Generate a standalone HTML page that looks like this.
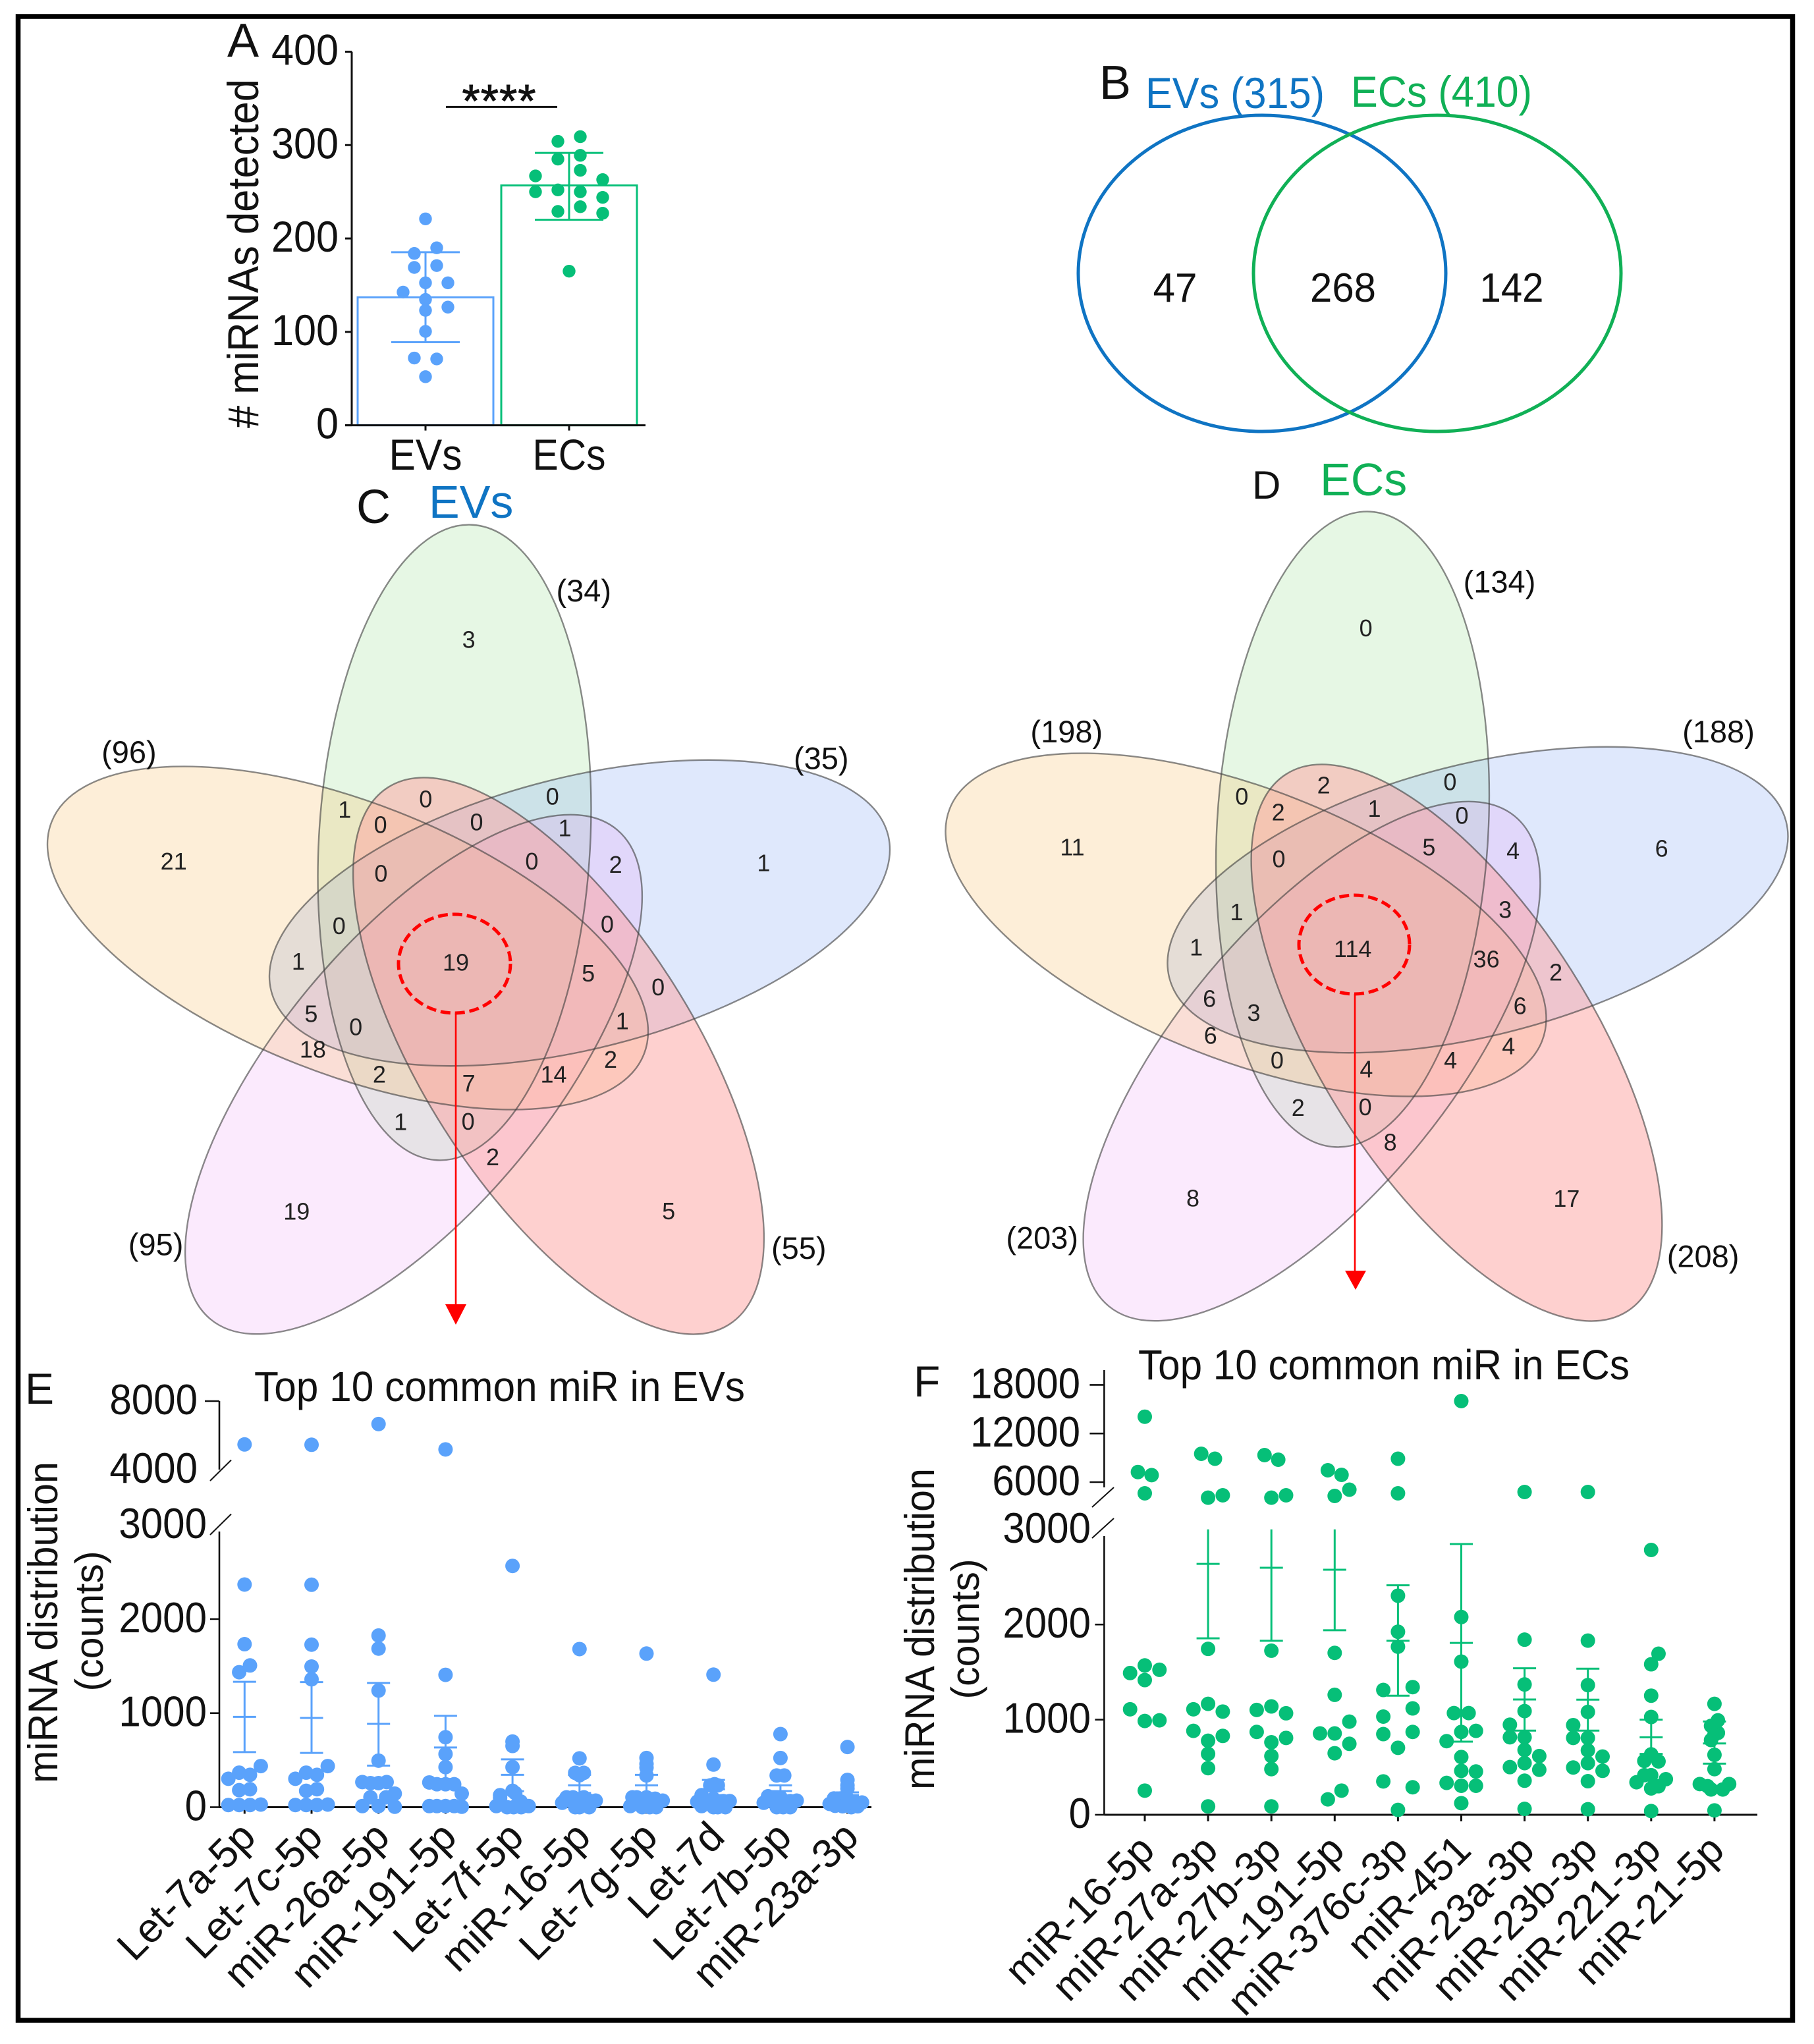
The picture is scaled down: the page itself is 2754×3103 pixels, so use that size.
<!DOCTYPE html>
<html lang="en">
<head>
<meta charset="utf-8">
<title>miRNA detection in EVs and ECs</title>
<style>
  html, body { margin: 0; padding: 0; background: #fff; }
  svg { display: block; font-family: "Liberation Sans", sans-serif; }
  text { fill: #111; }
  .vc { font-size: 36px; text-anchor: middle; fill: #222; }
  .vp { font-size: 47px; text-anchor: middle; fill: #111; }
  .panel { font-size: 72px; }
  .petal-line { fill: none; stroke: rgba(60,60,60,.6); stroke-width: 2.4; }
</style>
</head>
<body>
<svg id="figure" xmlns="http://www.w3.org/2000/svg" width="2754" height="3103" viewBox="0 0 2754 3103">
  <rect x="0" y="0" width="2754" height="3103" fill="#fff"/>
  <rect x="27.5" y="25" width="2694" height="3042" fill="none" stroke="#000" stroke-width="7.5"/>

  <!-- Panel A static text -->
  <text class="panel" x="345" y="86">A</text>
  <text transform="translate(392,385) rotate(-90)" text-anchor="middle" font-size="66" textLength="530" lengthAdjust="spacingAndGlyphs"># miRNAs detected</text>
  <text x="758" y="177" text-anchor="middle" font-size="70" letter-spacing="1" style="stroke:#111;stroke-width:1">****</text>
  <line x1="677" y1="162.4" x2="846" y2="162.4" stroke="#111" stroke-width="3"/>
  <g id="panelA"></g>

  <!-- Panel B -->
  <g>
    <text class="panel" x="1669" y="150">B</text>
    <text x="1739" y="164" font-size="66" textLength="272" lengthAdjust="spacingAndGlyphs" style="fill:#0f74c3">EVs (315)</text>
    <text x="2051" y="162" font-size="66" textLength="275" lengthAdjust="spacingAndGlyphs" style="fill:#10b056">ECs (410)</text>
    <ellipse cx="1916" cy="415" rx="279" ry="240" fill="none" stroke="#0f74c3" stroke-width="5"/>
    <ellipse cx="2182" cy="415" rx="279" ry="240" fill="none" stroke="#10b056" stroke-width="5"/>
    <text x="1784" y="458" text-anchor="middle" font-size="62" textLength="67" lengthAdjust="spacingAndGlyphs">47</text>
    <text x="2039" y="458" text-anchor="middle" font-size="62" textLength="100" lengthAdjust="spacingAndGlyphs">268</text>
    <text x="2295" y="458" text-anchor="middle" font-size="62" textLength="97" lengthAdjust="spacingAndGlyphs">142</text>
  </g>

  <!-- Panel C -->
  <g>
    <text class="panel" x="541" y="794">C</text>
    <text x="651" y="786" font-size="70" style="fill:#0f74c3">EVs</text>
    <ellipse cx="690" cy="1279" rx="206" ry="483" transform="rotate(3.2 690 1279)" fill="rgba(130,215,120,.2)"/>
    <ellipse cx="880" cy="1386" rx="206" ry="483" transform="rotate(75.8 880 1386)" fill="rgba(127,163,243,.25)"/>
    <ellipse cx="628" cy="1631" rx="206" ry="483" transform="rotate(39.7 628 1631)" fill="rgba(235,150,245,.2)"/>
    <ellipse cx="528" cy="1424" rx="206" ry="483" transform="rotate(-68.6 528 1424)" fill="rgba(247,187,99,.25)"/>
    <ellipse cx="848" cy="1603" rx="206" ry="483" transform="rotate(-32.4 848 1603)" fill="rgba(253,161,159,.5)"/>
    <ellipse class="petal-line" cx="690" cy="1279" rx="206" ry="483" transform="rotate(3.2 690 1279)"/>
    <ellipse class="petal-line" cx="880" cy="1386" rx="206" ry="483" transform="rotate(75.8 880 1386)"/>
    <ellipse class="petal-line" cx="628" cy="1631" rx="206" ry="483" transform="rotate(39.7 628 1631)"/>
    <ellipse class="petal-line" cx="528" cy="1424" rx="206" ry="483" transform="rotate(-68.6 528 1424)"/>
    <ellipse class="petal-line" cx="848" cy="1603" rx="206" ry="483" transform="rotate(-32.4 848 1603)"/>
    <ellipse cx="690" cy="1463" rx="85" ry="75" fill="none" stroke="#f00" stroke-width="5" stroke-dasharray="15 7"/>
    <line x1="692" y1="1538" x2="692" y2="1982" stroke="#f00" stroke-width="2.6"/>
    <polygon points="676,1980 708,1980 692,2011" fill="#f00"/>
    <g>
      <text class="vc" x="711.6" y="983.6">3</text>
      <text class="vc" x="263.7" y="1320.2">21</text>
      <text class="vc" x="1159.4" y="1322.7">1</text>
      <text class="vc" x="450.3" y="1851.7">19</text>
      <text class="vc" x="1015.2" y="1850.9">5</text>
      <text class="vc" x="692" y="1473.6">19</text>
      <text class="vc" x="523.3" y="1241.4">1</text>
      <text class="vc" x="577.6" y="1264.7">0</text>
      <text class="vc" x="646.3" y="1225.7">0</text>
      <text class="vc" x="723.5" y="1260.5">0</text>
      <text class="vc" x="838.8" y="1221.5">0</text>
      <text class="vc" x="857.5" y="1269.6">1</text>
      <text class="vc" x="807.4" y="1320.2">0</text>
      <text class="vc" x="934.6" y="1325.2">2</text>
      <text class="vc" x="578.4" y="1338.5">0</text>
      <text class="vc" x="514.8" y="1418">0</text>
      <text class="vc" x="921.9" y="1415.6">0</text>
      <text class="vc" x="452.9" y="1472">1</text>
      <text class="vc" x="893.1" y="1490.2">5</text>
      <text class="vc" x="999.1" y="1510.9">0</text>
      <text class="vc" x="472.4" y="1551.6">5</text>
      <text class="vc" x="540.2" y="1571.5">0</text>
      <text class="vc" x="944.8" y="1562.3">1</text>
      <text class="vc" x="474.9" y="1605.5">18</text>
      <text class="vc" x="927" y="1621.2">2</text>
      <text class="vc" x="575.9" y="1643.6">2</text>
      <text class="vc" x="711.6" y="1656.9">7</text>
      <text class="vc" x="840.5" y="1643.6">14</text>
      <text class="vc" x="608.1" y="1715.7">1</text>
      <text class="vc" x="710.7" y="1714.9">0</text>
      <text class="vc" x="748" y="1768.8">2</text>
    </g>
    <text class="vp" x="886.3" y="912.8">(34)</text>
    <text class="vp" x="195.9" y="1158.2">(96)</text>
    <text class="vp" x="1246.8" y="1167.3">(35)</text>
    <text class="vp" x="236.6" y="1905.3">(95)</text>
    <text class="vp" x="1212.8" y="1911.1">(55)</text>
  </g>

  <!-- Panel D -->
  <g>
    <text x="1901" y="757" font-size="60">D</text>
    <text x="2004" y="752" font-size="70" style="fill:#10b056">ECs</text>
    <g transform="translate(1363.5,-20)">
      <ellipse cx="690" cy="1279" rx="206" ry="483" transform="rotate(3.2 690 1279)" fill="rgba(130,215,120,.2)"/>
      <ellipse cx="880" cy="1386" rx="206" ry="483" transform="rotate(75.8 880 1386)" fill="rgba(127,163,243,.25)"/>
      <ellipse cx="628" cy="1631" rx="206" ry="483" transform="rotate(39.7 628 1631)" fill="rgba(235,150,245,.2)"/>
      <ellipse cx="528" cy="1424" rx="206" ry="483" transform="rotate(-68.6 528 1424)" fill="rgba(247,187,99,.25)"/>
      <ellipse cx="848" cy="1603" rx="206" ry="483" transform="rotate(-32.4 848 1603)" fill="rgba(253,161,159,.5)"/>
      <ellipse class="petal-line" cx="690" cy="1279" rx="206" ry="483" transform="rotate(3.2 690 1279)"/>
      <ellipse class="petal-line" cx="880" cy="1386" rx="206" ry="483" transform="rotate(75.8 880 1386)"/>
      <ellipse class="petal-line" cx="628" cy="1631" rx="206" ry="483" transform="rotate(39.7 628 1631)"/>
      <ellipse class="petal-line" cx="528" cy="1424" rx="206" ry="483" transform="rotate(-68.6 528 1424)"/>
      <ellipse class="petal-line" cx="848" cy="1603" rx="206" ry="483" transform="rotate(-32.4 848 1603)"/>
    </g>
    <ellipse cx="2056" cy="1434" rx="84" ry="75" fill="none" stroke="#f00" stroke-width="5" stroke-dasharray="15 7"/>
    <line x1="2057" y1="1509" x2="2057" y2="1932" stroke="#f00" stroke-width="2.6"/>
    <polygon points="2042,1929 2074,1929 2058,1958" fill="#f00"/>
    <g>
      <text class="vc" x="2073.6" y="966.2">0</text>
      <text class="vc" x="1628" y="1298.7">11</text>
      <text class="vc" x="2522.6" y="1300.4">6</text>
      <text class="vc" x="1811" y="1831.4">8</text>
      <text class="vc" x="2378.4" y="1832.2">17</text>
      <text class="vc" x="2053.7" y="1453.1">114</text>
      <text class="vc" x="1885.3" y="1221.5">0</text>
      <text class="vc" x="1940.6" y="1245.3">2</text>
      <text class="vc" x="2009.7" y="1204.6">2</text>
      <text class="vc" x="2086.5" y="1240.2">1</text>
      <text class="vc" x="2201.4" y="1199.5">0</text>
      <text class="vc" x="2219.5" y="1250.4">0</text>
      <text class="vc" x="2169.4" y="1298.7">5</text>
      <text class="vc" x="2297.2" y="1303.8">4</text>
      <text class="vc" x="1941.5" y="1316.5">0</text>
      <text class="vc" x="1877.5" y="1397.1">1</text>
      <text class="vc" x="2285.1" y="1393.7">3</text>
      <text class="vc" x="1816.2" y="1450.5">1</text>
      <text class="vc" x="2256.6" y="1468.4">36</text>
      <text class="vc" x="2362" y="1488.7">2</text>
      <text class="vc" x="1836.1" y="1528.6">6</text>
      <text class="vc" x="1903.5" y="1549.8">3</text>
      <text class="vc" x="2307.6" y="1539.6">6</text>
      <text class="vc" x="1837.8" y="1584.6">6</text>
      <text class="vc" x="2290.3" y="1600.7">4</text>
      <text class="vc" x="1938.9" y="1621.9">0</text>
      <text class="vc" x="2074.4" y="1635.5">4</text>
      <text class="vc" x="2202.2" y="1621.9">4</text>
      <text class="vc" x="1970.8" y="1694">2</text>
      <text class="vc" x="2072.7" y="1693.1">0</text>
      <text class="vc" x="2110.7" y="1746.6">8</text>
    </g>
    <text class="vp" x="2276.5" y="899.7">(134)</text>
    <text class="vp" x="1619.3" y="1127">(198)</text>
    <text class="vp" x="2609" y="1127">(188)</text>
    <text class="vp" x="1582.2" y="1895.5">(203)</text>
    <text class="vp" x="2585.6" y="1923.5">(208)</text>
  </g>

  <!-- Panel E static text -->
  <text x="38" y="2131" font-size="66">E</text>
  <text x="386" y="2127" font-size="64" textLength="745" lengthAdjust="spacingAndGlyphs">Top 10 common miR in EVs</text>
  <text transform="translate(87,2463) rotate(-90)" text-anchor="middle" font-size="63" textLength="488" lengthAdjust="spacingAndGlyphs">miRNA distribution</text>
  <text transform="translate(156,2461) rotate(-90)" text-anchor="middle" font-size="60" textLength="213" lengthAdjust="spacingAndGlyphs">(counts)</text>
  <g id="panelE"></g>

  <!-- Panel F static text -->
  <text x="1387" y="2120" font-size="66">F</text>
  <text x="1728" y="2094" font-size="64" textLength="746" lengthAdjust="spacingAndGlyphs">Top 10 common miR in ECs</text>
  <text transform="translate(1418,2473) rotate(-90)" text-anchor="middle" font-size="63" textLength="488" lengthAdjust="spacingAndGlyphs">miRNA distribution</text>
  <text transform="translate(1486,2473) rotate(-90)" text-anchor="middle" font-size="60" textLength="213" lengthAdjust="spacingAndGlyphs">(counts)</text>
  <g id="panelF"></g>
</svg>

<script>
/* ---------- Panel A data ---------- */
const detectedCategories = ['EVs', 'ECs'];
const detectedTicks = [0, 100, 200, 300, 400];
const detectedMeans = [137, 256.8];
const detectedUpper = [185.3, 291.6];
const detectedLower = [88.9, 220];
const detectedEVs = [221, 190, 184, 169, 171, 152.5, 152.5, 142.6, 134.7, 123, 126.5, 100.5, 72, 71, 52];
const detectedEVsSwarm = [0, 1, -1, -1, 1, 0, 2, -2, 0, 0, 2, 0, -1, 1, 0];
const detectedECs = [309, 304, 289, 285, 273, 267, 263, 252, 250, 250, 244, 234, 229, 227, 165];
const detectedECsSwarm = [1, -1, 1, -1, 1, -3, 3, -1, -3, 1, 3, 1, -1, 3, 0];

/* ---------- Panel E data ---------- */
const evCategories = ['Let-7a-5p', 'Let-7c-5p', 'miR-26a-5p', 'miR-191-5p', 'Let-7f-5p', 'miR-16-5p', 'Let-7g-5p', 'Let-7d', 'Let-7b-5p', 'miR-23a-3p'];
const evLowerTicks = [0, 1000, 2000];
const evLowerTickLabels = [0, 1000, 2000, 3000];
const evUpperTicks = [8000];
const evUpperTickLabels = [4000, 8000];
const evMeans = [960, 949, 886, 635, 344, 233, 233, 190, 172, 128];
const evUpper = [1333, 1330, 1321, 972, 509, 344, 344, 290, 233, 158];
const evLower = [586, 577, 442, 300, 170, 151, 151, 128, 116, 81];
const evCounts = [
  [5470, 2367, 1733, 1507, 1435, 437, 367, 344, 302, 181, 191, 23, 23, 23, 28],
  [5450, 2365, 1728, 1495, 1360, 437, 367, 344, 302, 174, 191, 23, 23, 23, 28],
  [6660, 1825, 1686, 1240, 495, 267, 256, 256, 267, 144, 105, 105, 12, 12, 5],
  [5180, 1407, 744, 565, 426, 263, 244, 244, 244, 144, 12, 12, 12, 12, 5],
  [2565, 698, 651, 426, 174, 128, 150, 100, 60, 12, 0, 0, 0, 12, 60],
  [1681, 519, 365, 365, 340, 105, 47, 105, 105, 70, 70, 0, 0, 0, 70],
  [1633, 523, 460, 420, 337, 105, 12, 105, 105, 70, 50, 0, 0, 0, 90],
  [1409, 453, 244, 232, 232, 128, 58, 12, 90, 65, 65, 0, 0, 0, 40],
  [777, 523, 337, 337, 116, 47, 105, 105, 70, 65, 0, 0, 0, 40, 20],
  [640, 290, 233, 198, 93, 35, 93, 93, 50, 50, 10, 0, 10, 40, 15]
];
const evSwarm = [
  [0, 0, 0, 1, -1, 3, -1, 1, -3, -1, 1, -3, -1, 1, 3],
  [0, 0, 0, 0, 0, 3, -1, 1, -3, -1, 1, -3, -1, 1, 3],
  [0, 0, 0, 0, 0, -3, -1.5, 0, 1.5, 3, -1.5, 1.4, -3, 0, 3],
  [0, 0, 0, 0, 0, -3, -1.6, 0, 1.6, 3, -3, -1.6, 0, 1.6, 3],
  [0, 0, 0, 0, 0, -2.3, 0.5, -2.3, 1.5, -3, -1, 0.2, 1.6, 3, 1.2],
  [0, 0, -0.8, 0.8, 0, -2.4, -3.2, -1.2, 0.8, 3, 1.8, -0.8, 0, 1.8, -2.8],
  [0, 0, 0, 0, 0, -2.6, -3, -1.8, 0, 3, 1.8, -0.8, 0.6, 1.8, 1.6],
  [0, 0, 0.2, -0.6, 0.8, -2.2, -3, -2.2, 0, 3, 1.8, 0, 0.8, 2.2, -1],
  [0, 0, -0.7, 0.7, -2.3, -3.1, -1.5, 0, 3, 1.8, -0.7, 0.5, 1.8, -1, 1],
  [0, 0, 0, 0, -2.5, -3.3, -1.3, 0, 2.7, 1.5, -0.9, 0.7, 1.9, 0, -2.3]
];

/* ---------- Panel F data ---------- */
const ecCategories = ['miR-16-5p', 'miR-27a-3p', 'miR-27b-3p', 'miR-191-5p', 'miR-376c-3p', 'miR-451', 'miR-23a-3p', 'miR-23b-3p', 'miR-221-3p', 'miR-21-5p'];
const ecLowerTicks = [0, 1000, 2000];
const ecLowerTickLabels = [0, 1000, 2000, 3000];
const ecUpperTicks = [6000, 12000, 18000];
const ecUpperTickLabels = [6000, 12000, 18000];
const ecMeans = [null, 2638, 2597, 2576, 1829, 1807, 1212, 1210, 815, 750];
const ecUpper = [null, 3000, 3000, 3000, 2413, 2846, 1540, 1536, 1000, 981];
const ecLower = [null, 1855, 1829, 1940, 1252, 769, 885, 885, 640, 538];
const ecCounts = [
  [14073, 7244, 6862, 4618, 1570, 1490, 1524, 1416, 1109, 986, 993, 254],
  [9496, 8886, 4081, 4374, 1744, 1166, 1109, 1085, 882, 829, 778, 640, 490, 88],
  [9333, 8764, 4081, 4374, 1725, 1139, 1102, 1067, 871, 808, 762, 617, 480, 88],
  [7463, 6894, 4293, 5065, 1702, 1261, 979, 855, 855, 746, 647, 254, 162],
  [8886, 4618, 2303, 1924, 1767, 1342, 1312, 1118, 1032, 871, 848, 704, 351, 289, 51],
  [16000, 2079, 1610, 1069, 1069, 871, 882, 774, 607, 462, 455, 335, 305, 305, 122],
  [4780, 1841, 1370, 1090, 947, 815, 815, 681, 617, 543, 501, 473, 358, 62],
  [4780, 1831, 1363, 1081, 942, 808, 808, 677, 612, 543, 497, 462, 353, 58],
  [2784, 1693, 1582, 1252, 1028, 566, 635, 561, 342, 416, 416, 374, 300, 277, 39],
  [1166, 993, 935, 935, 861, 785, 843, 630, 480, 323, 323, 300, 266, 266, 46]
];
const ecSwarm = [
  [0, -1.4, 1.4, 0, 0, -3, 3, 0, -3, 0, 3, 0],
  [-1.4, 1.4, 0, 3, 0, 0, -3, 3, -3, 3, 0, 0, 0, 0],
  [-1.4, 1.4, 0, 3, 0, 0, -3, 3, -3, 3, 0, 0, 0, 0],
  [-1.4, 1.4, 0, 3, 0, 0, 3, -3, 0, 3, 0, 1.4, -1.4],
  [0, 0, 0, 0, 0, 3, -3, 3, -3, 3, -3, 0, -3, 3, 0],
  [0, 0, 0, -1.5, 1.5, 0, 3, -3, 0, 0, 3, -3, 0, 3, 0],
  [0, 0, 0, 0, -3, -3, 0, 0, 3, 0, -3, 3, 0, 0],
  [0, 0, 0, 0, -3, -3, 0, 0, 3, 0, -3, 3, 0, 0],
  [0, 1.5, 0, 0, 0, -1.4, 0, 1.5, -3, -1.4, 0, 3, 1.5, 0, 0],
  [0, 0.7, -0.7, 0, 0.7, -0.7, 0, 0, 0, -3, 3, -1.4, 1.7, -0.7, 0]
];

/* ---------- helpers ---------- */
const NS = 'http://www.w3.org/2000/svg';
const BLUE = '#5aa2fb';
const GREEN = '#06bf78';
function mk(parent, tag, props, content) {
  const node = document.createElementNS(NS, tag);
  for (const key in props) node.setAttribute(key, props[key]);
  if (content !== undefined) node.textContent = content;
  parent.appendChild(node);
  return node;
}
function stroke(parent, x1, y1, x2, y2, color, width) {
  return mk(parent, 'line', { x1: x1, y1: y1, x2: x2, y2: y2, stroke: color, 'stroke-width': width });
}

/* ---------- Panel A ---------- */
(function () {
  const g = document.getElementById('panelA');
  const yA = function (v) { return 645.6 - v * 1.4178; };
  const xA = function (i) { return 646 + 218 * i; };
  const swarmUnit = 17;
  const sets = [detectedEVs, detectedECs];
  const swarms = [detectedEVsSwarm, detectedECsSwarm];
  const colors = [BLUE, GREEN];

  detectedCategories.forEach(function (name, i) {
    const bar = mk(g, 'rect', { x: xA(i) - 103, y: yA(detectedMeans[i]), width: 206, height: yA(0) - yA(detectedMeans[i]), fill: 'none', stroke: colors[i], 'stroke-width': 3 });
    
    

    const stem = stroke(g, xA(i), yA(detectedUpper[i]), xA(i), yA(detectedLower[i]), colors[i], 3);
    
    
    const capTop = stroke(g, xA(i) - 52, yA(detectedUpper[i]), xA(i) + 52, yA(detectedUpper[i]), colors[i], 3);
    
    
    const capBottom = stroke(g, xA(i) - 52, yA(detectedLower[i]), xA(i) + 52, yA(detectedLower[i]), colors[i], 3);
    
    

    sets[i].forEach(function (v, k) {
      const dot = mk(g, 'circle', { cx: xA(i) + swarms[i][k] * swarmUnit, cy: yA(v), r: 9.7, fill: colors[i] });
      
      
    });

    const tick = stroke(g, xA(i), yA(0), xA(i), yA(0) + 8, '#111', 3);
    
    
    const label = mk(g, 'text', { x: xA(i), y: 713, 'text-anchor': 'middle', 'font-size': 66, textLength: 111, lengthAdjust: 'spacingAndGlyphs' }, name);
    
    
  });

  const yAxis = stroke(g, 534, yA(400), 534, yA(0), '#111', 3);
  
  
  const xAxis = stroke(g, 524, yA(0), 980, yA(0), '#111', 3);
  
  

  detectedTicks.forEach(function (v) {
    const tick = stroke(g, 524, yA(v), 534, yA(v), '#111', 3);
    
    
    const label = mk(g, 'text', { x: 514, y: yA(v) + 20, 'text-anchor': 'end', 'font-size': 66, textLength: String(v).length * 34, lengthAdjust: 'spacingAndGlyphs' }, v);
    
    
  });
})();

/* ---------- Panels E and F ---------- */
function drawBrokenChart(g, cfg) {
  const xOf = function (i) { return cfg.x0 + cfg.step * i; };

  cfg.axisSegments.forEach(function (seg) {
    const axis = stroke(g, cfg.axisX, seg[0], cfg.axisX, seg[1], '#111', 2.6);
    
    
  });
  const xAxis = stroke(g, cfg.axisX, cfg.yLow(0), cfg.xEnd, cfg.yLow(0), '#111', 3);
  
  

  cfg.breaks.forEach(function (b) {
    const slash = stroke(g, b[0], b[1], b[2], b[3], '#111', 2);
    
    
  });

  cfg.lowTicks.forEach(function (v) {
    const tick = stroke(g, cfg.axisX - 14, cfg.yLow(v), cfg.axisX, cfg.yLow(v), '#111', 2.6);
    
    
  });
  cfg.lowTickLabels.forEach(function (v) {
    const label = mk(g, 'text', { x: cfg.lowLabelX, y: cfg.yLow(v) + 20, 'text-anchor': 'end', 'font-size': 65, textLength: String(v).length * 33.4, lengthAdjust: 'spacingAndGlyphs' }, v);
    
    
  });
  cfg.highTicks.forEach(function (v) {
    const tick = stroke(g, cfg.axisX - 22, cfg.yHigh(v), cfg.axisX, cfg.yHigh(v), '#111', 2.6);
    
    
  });
  cfg.highTickLabels.forEach(function (v) {
    const label = mk(g, 'text', { x: cfg.highLabelX, y: cfg.yHigh(v) + 20, 'text-anchor': 'end', 'font-size': 65, textLength: String(v).length * 33.4, lengthAdjust: 'spacingAndGlyphs' }, v);
    
    
  });

  cfg.categories.forEach(function (name, i) {
    const x = xOf(i);
    const tick = stroke(g, x, cfg.yLow(0), x, cfg.yLow(0) + 10, '#111', 3);
    
    

    const lx = x + cfg.labelDx;
    const label = mk(g, 'text', { x: lx, y: cfg.labelY, 'text-anchor': 'end', 'font-size': 62, transform: 'rotate(-45 ' + lx + ' ' + cfg.labelY + ')' }, name);
    
    

    if (cfg.means[i] !== null) {
      const top = cfg.yLow(cfg.upper[i]);
      const bottom = cfg.yLow(cfg.lower[i]);
      const mid = cfg.yLow(cfg.means[i]);
      const stem = stroke(g, x, top, x, bottom, cfg.color, 3);
      
      
      if (cfg.upper[i] < 3000) {
        const capTop = stroke(g, x - 17.5, top, x + 17.5, top, cfg.color, 3);
        
        
      }
      const capBottom = stroke(g, x - 17.5, bottom, x + 17.5, bottom, cfg.color, 3);
      
      
      const mean = stroke(g, x - 17.5, mid, x + 17.5, mid, cfg.color, 3);
      
      
    }

    cfg.counts[i].forEach(function (v, k) {
      const dot = mk(g, 'circle', { cx: x + cfg.swarm[i][k] * cfg.swarmUnit, cy: v > 3000 ? cfg.yHigh(v) : cfg.yLow(v), r: 11, fill: cfg.color });
      
      
    });
  });
}

drawBrokenChart(document.getElementById('panelE'), {
  color: BLUE, categories: evCategories, counts: evCounts, swarm: evSwarm, swarmUnit: 8.2,
  means: evMeans, upper: evUpper, lower: evLower,
  x0: 371.3, step: 101.7, axisX: 333, xEnd: 1323,
  yLow: function (v) { return 2743.5 - v * 0.1428; },
  yHigh: function (v) { return 2231 - (v - 4000) * 0.026; },
  axisSegments: [[2127, 2231], [2325, 2743.5]],
  breaks: [[319, 2248, 351, 2216.5], [319, 2330, 351, 2298.5]],
  lowTicks: evLowerTicks, lowTickLabels: evLowerTickLabels,
  highTicks: evUpperTicks, highTickLabels: evUpperTickLabels,
  lowLabelX: 314, highLabelX: 300, labelDx: 20, labelY: 2792
});

drawBrokenChart(document.getElementById('panelF'), {
  color: GREEN, categories: ecCategories, counts: ecCounts, swarm: ecSwarm, swarmUnit: 7.43,
  means: ecMeans, upper: ecUpper, lower: ecLower,
  x0: 1738, step: 96.1, axisX: 1676.4, xEnd: 2668,
  yLow: function (v) { return 2755 - v * 0.1444; },
  yHigh: function (v) { return 2250 - (v - 6000) * 0.0123; },
  axisSegments: [[2080, 2258], [2332, 2755]],
  breaks: [[1658, 2288, 1691, 2258], [1658, 2335, 1691, 2305]],
  lowTicks: ecLowerTicks, lowTickLabels: ecLowerTickLabels,
  highTicks: ecUpperTicks, highTickLabels: ecUpperTickLabels,
  lowLabelX: 1656, highLabelX: 1640, labelDx: 18, labelY: 2812
});
</script>
</body>
</html>
